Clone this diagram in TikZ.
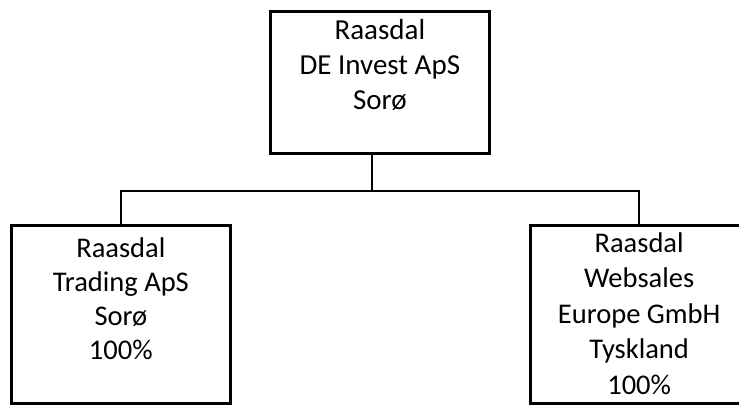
\documentclass[tikz,border=0pt]{standalone}
\usepackage{fontspec}
\setmainfont{Carlito}
\newdimen\pxu \pxu=0.75pt
\newcommand\boxtxt[6]{\parbox[c][#2\pxu][t]{#1\pxu}{\centering\fontsize{#4\pxu}{#5\pxu}\selectfont\rule{0pt}{#3\pxu}#6\par}}
\begin{document}
\begin{tikzpicture}[x=0.75pt,y=-0.75pt,
  orgbox/.style={draw=black,line width=2.25pt,inner sep=0pt,outer sep=0pt,fill=white},
  link/.style={draw=black,line width=1.4pt}]
\useasboundingbox (0,0) rectangle (739,405);
\clip (0,0) rectangle (739,405);
\fill[white] (0,0) rectangle (739,405);
\node[orgbox,anchor=north west] (top) at (270.7,11.3)
  {\boxtxt{218.3}{142.2}{28}{29}{35}{Raasdal\\DE Invest ApS\\Sorø}};
\node[orgbox,anchor=north west] (left) at (11.7,225.8)
  {\boxtxt{218.3}{177.5}{31.2}{28.5}{34}{Raasdal\\Trading ApS\\Sorø\\100\%}};
\node[orgbox,anchor=north west] (right) at (530,225.8)
  {\boxtxt{218.3}{177.2}{26.2}{28.5}{35.5}{Raasdal\\Websales\\Europe GmbH\\Tyskland\\100\%}};
\coordinate (jt) at (371.7,190.7);
\draw[link] (jt |- top.south) -- (jt);
\draw[link] (left.north) |- (jt) -| (right.north);
\end{tikzpicture}
\end{document}
